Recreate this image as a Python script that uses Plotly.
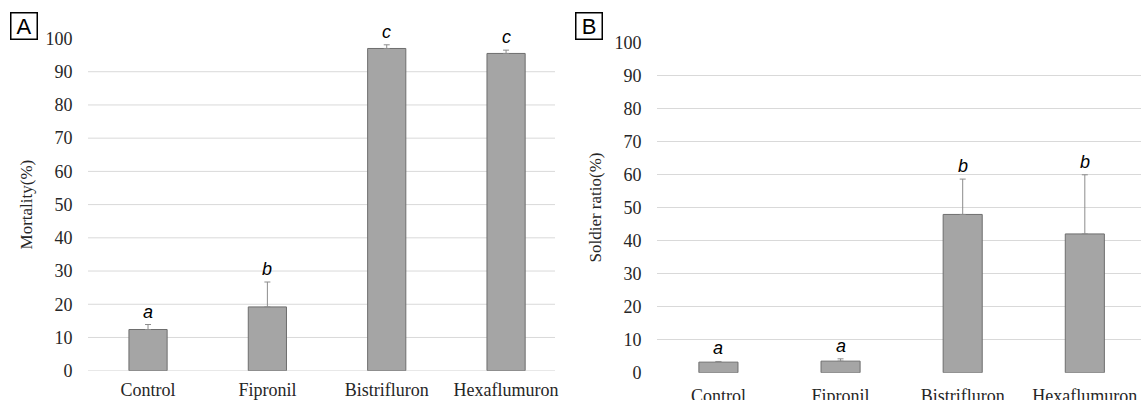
import plotly.graph_objects as go

categories = ["Control", "Fipronil", "Bistrifluron", "Hexaflumuron"]
mortality = [12.4, 19.2, 97.0, 95.5]
mortality_err = [1.5, 7.5, 1.1, 1.0]
mortality_letters = ["a", "b", "c", "c"]
soldier = [3.2, 3.5, 47.9, 42.0]
soldier_err = [0.2, 0.7, 10.7, 17.9]
soldier_letters = ["a", "a", "b", "b"]
y_ticks = list(range(0, 101, 10))

W, H = 1146, 400
BAR = "#A5A5A5"
EDGE = "#6E6E6E"
GRID = "#D9D9D9"
TXT = "#262626"
SERIF = "Liberation Serif"

fig = go.Figure()

def add_bars(vals, errs, xa, ya):
    fig.add_trace(go.Bar(
        x=categories, y=vals, xaxis=xa, yaxis=ya, width=0.32,
        marker=dict(color=BAR, line=dict(color=EDGE, width=1)),
        error_y=dict(type="data", array=errs, symmetric=False,
                     arrayminus=[0] * len(errs), color="#8C8C8C",
                     thickness=1, width=3),
        showlegend=False, hoverinfo="skip"))

add_bars(mortality, mortality_err, "x", "y")
add_bars(soldier, soldier_err, "x2", "y2")

annotations = []
for xr, yr, vals, errs, letters in [("x", "y", mortality, mortality_err, mortality_letters),
                                     ("x2", "y2", soldier, soldier_err, soldier_letters)]:
    for c, v, e, l in zip(categories, vals, errs, letters):
        annotations.append(dict(x=c, y=v + e, xref=xr, yref=yr, text=l,
                                showarrow=False, yanchor="bottom", yshift=1,
                                font=dict(family="Liberation Sans", size=18,
                                          color="#000000", style="italic")))

for lab, px in [("A", 23.5), ("B", 588.5)]:
    annotations.append(dict(x=px / W, y=1 - 26 / H, xref="paper", yref="paper",
                            text=lab, showarrow=False, xanchor="center", yanchor="middle",
                            width=25, height=25, bordercolor="#000000", borderwidth=1.5,
                            borderpad=0,
                            font=dict(family="Liberation Sans", size=22, color="#000000")))

# gridlines for panel A (no top gridline in the reference)
shapes = []
for t in y_ticks[:-1]:
    shapes.append(dict(type="line", xref="x domain", x0=0, x1=1, yref="y", y0=t, y1=t,
                       line=dict(color=GRID, width=1), layer="below"))

tickfont = dict(family=SERIF, size=18, color=TXT)
common_x = dict(type="category", showgrid=False, zeroline=False, showline=False,
                ticks="outside", tickcolor="rgba(0,0,0,0)",
                tickfont=tickfont, automargin=False, fixedrange=True)
common_y = dict(range=[0, 100], tickvals=y_ticks, zeroline=False, showline=False,
                ticks="outside", ticklen=11, tickcolor="rgba(0,0,0,0)",
                tickfont=tickfont, automargin=False, fixedrange=True)

fig.update_layout(
    width=W, height=H,
    margin=dict(l=0, r=0, t=0, b=0),
    paper_bgcolor="white", plot_bgcolor="white",
    bargap=0.68,
    xaxis=dict(domain=[88 / W, 555 / W], range=[-0.503, 3.41], anchor="y",
               ticklen=3, **common_x),
    yaxis=dict(domain=[(H - 370.7) / H, (H - 38.5) / H], anchor="x", showgrid=False,
               title=dict(text="Mortality(%)", standoff=8,
                          font=dict(family=SERIF, size=17, color=TXT)),
               **common_y),
    xaxis2=dict(domain=[657 / W, 1141 / W], range=[-0.503, 3.46], anchor="y2",
                ticklen=7, **common_x),
    yaxis2=dict(domain=[(H - 372.7) / H, (H - 42.3) / H], anchor="x2", showgrid=True,
                gridcolor=GRID, gridwidth=1,
                title=dict(text="Soldier ratio(%)", standoff=8,
                           font=dict(family=SERIF, size=17, color=TXT)),
                **common_y),
    annotations=annotations,
    shapes=shapes,
)

fig.write_html("out.html", config={"displayModeBar": False},
               post_script="document.body.style.margin='0px';document.body.style.overflow='hidden';")
